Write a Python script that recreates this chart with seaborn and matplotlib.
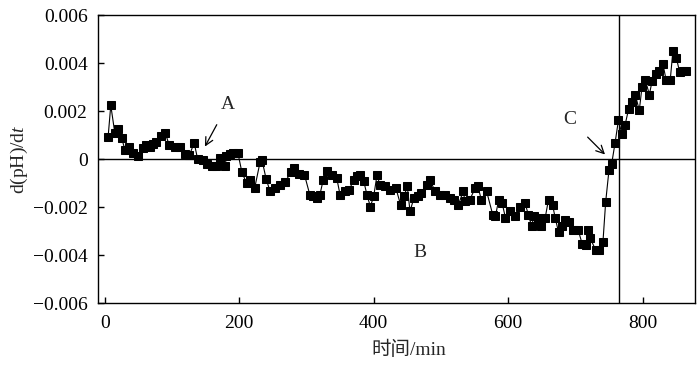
import pandas as pd
import matplotlib.pyplot as plt
import seaborn as sns
import numpy as np

# time (min) and d(pH)/dt
time_min = [5, 9, 15, 20, 25, 30, 36, 42, 50, 57, 62, 67, 72, 77, 83, 90, 96, 104, 112, 120,
            126, 133, 138, 146, 152, 159, 166, 171, 179, 181, 186, 191, 198, 204, 211, 216, 223,
            231, 234, 240, 246, 253, 261, 268, 277, 282, 289, 297, 305, 310, 315, 320, 325, 330,
            338, 345, 350, 357, 364, 370, 375, 379, 385, 390, 395, 400, 405, 409, 417, 424, 433,
            440, 445, 450, 454, 460, 466, 471, 479, 484, 491, 499, 506, 514, 520, 526, 533, 536,
            543, 551, 555, 560, 568, 577, 581, 586, 591, 596, 603, 610, 618, 625, 630, 635, 638,
            645, 649, 655, 660, 666, 670, 675, 680, 685, 690, 696, 704, 710, 716, 719, 722, 730,
            735, 741, 745, 750, 754, 759, 764, 769, 774, 779, 784, 789, 795, 799, 804, 810, 814,
            820, 825, 830, 835, 841, 845, 850, 855, 860, 865]
dph_dt = [0.00092, 0.00225, 0.00110, 0.00127, 0.00090, 0.00040, 0.00050, 0.00027, 0.00013, 0.00045,
          0.00060, 0.00050, 0.00062, 0.00070, 0.00096, 0.00110, 0.00058, 0.00052, 0.00050, 0.00020,
          0.00017, 0.00069, 0.00003, -0.00004, -0.00020, -0.00030, -0.00030, 0.00006, -0.00030, 0.00013,
          0.00020, 0.00027, 0.00027, -0.00054, -0.00100, -0.00088, -0.00120, -0.00012, -0.00004, -0.00082,
          -0.00134, -0.00120, -0.00106, -0.00096, -0.00054, -0.00036, -0.00060, -0.00064, -0.00148, -0.00155,
          -0.00160, -0.00148, -0.00085, -0.00050, -0.00064, -0.00078, -0.00148, -0.00134, -0.00127, -0.00085,
          -0.00070, -0.00064, -0.00089, -0.00148, -0.00197, -0.00155, -0.00064, -0.00106, -0.00113, -0.00127,
          -0.00120, -0.00190, -0.00155, -0.00113, -0.00217, -0.00160, -0.00155, -0.00140, -0.00106, -0.00085,
          -0.00134, -0.00148, -0.00148, -0.00160, -0.00168, -0.00190, -0.00134, -0.00176, -0.00168, -0.00120,
          -0.00113, -0.00168, -0.00134, -0.00231, -0.00238, -0.00168, -0.00182, -0.00245, -0.00217, -0.00238,
          -0.00197, -0.00182, -0.00231, -0.00280, -0.00238, -0.00245, -0.00280, -0.00245, -0.00168, -0.00190,
          -0.00245, -0.00305, -0.00280, -0.00252, -0.00260, -0.00294, -0.00294, -0.00352, -0.00357, -0.00297,
          -0.00329, -0.00378, -0.00378, -0.00343, -0.00178, -0.00043, -0.00018, 0.00069, 0.00163, 0.00107,
          0.00145, 0.00208, 0.00238, 0.00270, 0.00204, 0.00301, 0.00330, 0.00270, 0.00326, 0.00354,
          0.00368, 0.00399, 0.00330, 0.00330, 0.00452, 0.00424, 0.00364, 0.00370, 0.00368]

x_ticks = [0, 200, 400, 600, 800]
y_ticks = [-0.006, -0.004, -0.002, 0, 0.002, 0.004, 0.006]
y_ticklabels = ['\u22120.006', '\u22120.004', '\u22120.002', '0', '0.002', '0.004', '0.006']
t_end = 765  # vertical marker line

sns.set_style("ticks")
plt.rcParams['font.family'] = ['Liberation Serif', 'Noto Sans CJK SC']
plt.rcParams['mathtext.fontset'] = 'custom'
plt.rcParams['mathtext.rm'] = 'Liberation Serif'
plt.rcParams['mathtext.it'] = 'Liberation Serif:italic'

df = pd.DataFrame({'time': time_min, 'rate': dph_dt})

fig = plt.figure(figsize=(7, 3.67), dpi=100)
ax = fig.add_axes([0.140, 0.174, 0.853, 0.784])

sns.lineplot(data=df, x='time', y='rate', ax=ax, color='black', linewidth=0.8,
             marker='s', markersize=6.4, markeredgecolor='black', markerfacecolor='black',
             sort=False, zorder=3)

ax.axhline(0, color='black', linewidth=1.0, zorder=2)
ax.axvline(t_end, color='black', linewidth=1.0, zorder=2)

ax.set_xlim(-10, 878)
ax.set_ylim(-0.006, 0.006)
ax.set_xticks(x_ticks)
ax.set_yticks(y_ticks)
ax.set_yticklabels(y_ticklabels)
ax.tick_params(direction='in', length=4, width=1, labelsize=14, colors='black')
ax.tick_params(axis='x', pad=8.5)
ax.tick_params(axis='y', pad=7.5)
for s in ax.spines.values():
    s.set_linewidth(1.0)
    s.set_color('black')

ax.set_xlabel('时间/min', fontsize=14, labelpad=6, x=0.52)
ax.set_ylabel('d(pH)/d$t$', fontsize=14, labelpad=2)

ax.annotate('A', xy=(149, 0.00053), xytext=(183, 0.00229), fontsize=14, ha='center', va='center',
            arrowprops=dict(arrowstyle='->', color='black', lw=0.9, shrinkA=7, shrinkB=0))
ax.annotate('C', xy=(744, 0.0002), xytext=(692, 0.00166), fontsize=14, ha='center', va='center',
            arrowprops=dict(arrowstyle='->', color='black', lw=0.9, shrinkA=8, shrinkB=0))
ax.text(469, -0.0039, 'B', fontsize=14, ha='center', va='center')

fig.savefig('out.png', dpi=100)
